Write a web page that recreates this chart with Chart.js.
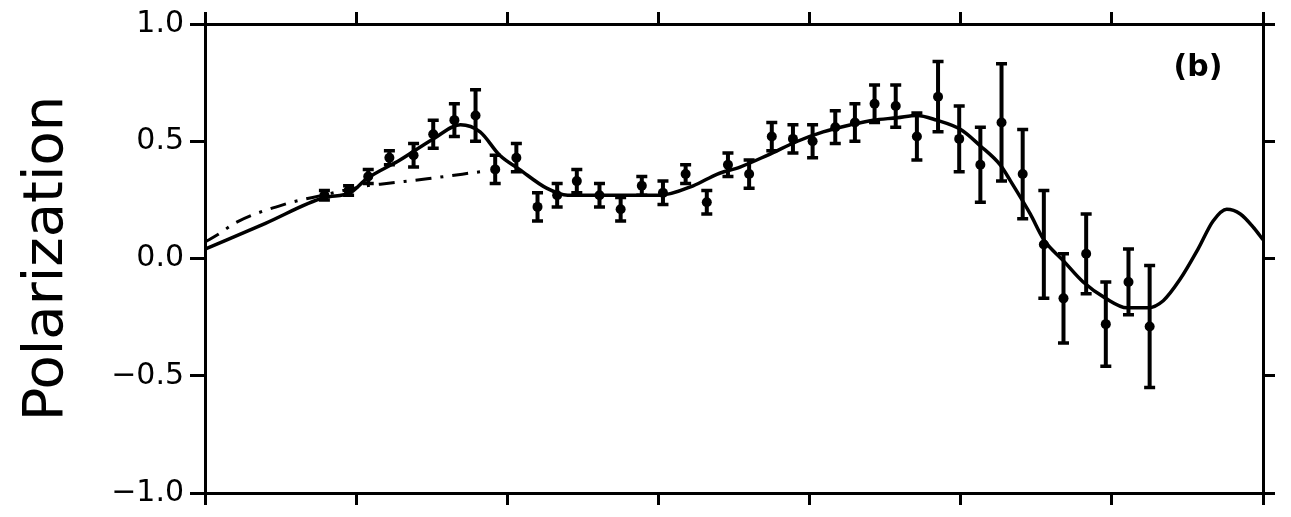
<!DOCTYPE html>
<html>
<head>
<meta charset="utf-8">
<script src="https://cdn.jsdelivr.net/npm/chart.js@4.4.1/dist/chart.umd.min.js"></script>
<style>
  html, body { margin: 0; padding: 0; background: #fff; }
  canvas { display: block; }
</style>
</head>
<body>
<canvas id="polChart" width="1291" height="517"></canvas>
<script>
// measured points with error bars
const obsX = [0.79, 0.95, 1.08, 1.22, 1.38, 1.51, 1.65, 1.79, 1.92, 2.06, 2.20, 2.33, 2.46, 2.61, 2.75, 2.89, 3.03, 3.18, 3.32, 3.46,
  3.60, 3.75, 3.89, 4.02, 4.17, 4.30, 4.43, 4.57, 4.71, 4.85, 4.99, 5.13, 5.27, 5.41, 5.55, 5.68, 5.83, 5.96, 6.11, 6.25];
const obsY = [0.27, 0.29, 0.35, 0.43, 0.44, 0.53, 0.59, 0.61, 0.38, 0.43, 0.22, 0.27, 0.33, 0.27, 0.21, 0.31, 0.28, 0.36, 0.24, 0.40,
  0.36, 0.52, 0.51, 0.50, 0.56, 0.58, 0.66, 0.65, 0.52, 0.69, 0.51, 0.40, 0.58, 0.36, 0.06, -0.17, 0.02, -0.28, -0.10, -0.29];
const obsErr = [0.02, 0.02, 0.03, 0.03, 0.05, 0.06, 0.07, 0.11, 0.06, 0.06, 0.06, 0.05, 0.05, 0.05, 0.05, 0.04, 0.05, 0.04, 0.05, 0.05,
  0.06, 0.06, 0.06, 0.07, 0.07, 0.08, 0.08, 0.09, 0.10, 0.15, 0.14, 0.16, 0.25, 0.19, 0.23, 0.19, 0.17, 0.18, 0.14, 0.26];

// solid fit curve
const fitX = [0, 0.4, 0.79, 0.96, 1.07, 1.29, 1.51, 1.69, 1.82, 1.95, 2.08, 2.26, 2.40, 2.61, 2.81, 3.01, 3.23, 3.39, 3.54, 3.72, 3.92,
  4.09, 4.27, 4.42, 4.58, 4.71, 4.84, 5.00, 5.13, 5.26, 5.33, 5.46, 5.55, 5.68, 5.81, 5.96, 6.10, 6.24, 6.34, 6.45, 6.57,
  6.67, 6.76, 6.85, 6.94, 7.0];
const fitY = [0.04, 0.15, 0.26, 0.28, 0.34, 0.42, 0.51, 0.57, 0.54, 0.44, 0.38, 0.30, 0.27, 0.27, 0.27, 0.27, 0.31, 0.36, 0.39, 0.44, 0.50,
  0.54, 0.57, 0.59, 0.60, 0.61, 0.59, 0.55, 0.48, 0.40, 0.33, 0.19, 0.08, -0.01, -0.10, -0.17, -0.21, -0.21, -0.18, -0.09, 0.04,
  0.16, 0.21, 0.19, 0.13, 0.08];

// dash-dot branch
const altX = [0, 0.08, 0.21, 0.52, 0.78, 1.07, 1.16, 1.47, 1.82];
const altY = [0.07, 0.10, 0.155, 0.23, 0.27, 0.31, 0.317, 0.34, 0.37];

const yTicks = [-1, -0.5, 0, 0.5, 1];
const panelLabel = '(b)';

const toPts = (xs, ys) => xs.map((x, i) => ({ x, y: ys[i] }));

const errorBars = {
  id: 'errorBars',
  afterDatasetsDraw(chart) {
    const { ctx, scales: { x, y } } = chart;
    ctx.save();
    ctx.strokeStyle = '#000';
    ctx.lineCap = 'butt';
    obsX.forEach((v, i) => {
      const px = x.getPixelForValue(v);
      const top = y.getPixelForValue(obsY[i] + obsErr[i]);
      const bot = y.getPixelForValue(obsY[i] - obsErr[i]);
      ctx.lineWidth = 4;
      ctx.beginPath();
      ctx.moveTo(px, top);
      ctx.lineTo(px, bot);
      ctx.stroke();
      ctx.lineWidth = 3.5;
      ctx.beginPath();
      ctx.moveTo(px - 5.5, top);
      ctx.lineTo(px + 5.5, top);
      ctx.moveTo(px - 5.5, bot);
      ctx.lineTo(px + 5.5, bot);
      ctx.stroke();
    });
    // panel label
    ctx.fillStyle = '#000';
    ctx.font = 'bold 30px "DejaVu Sans"';
    ctx.textAlign = 'center';
    ctx.textBaseline = 'middle';
    ctx.fillText(panelLabel, x.getPixelForValue(6.57), y.getPixelForValue(0.81));
    ctx.restore();
  }
};

const gridOpts = (len) => ({
  drawOnChartArea: false,
  drawTicks: true,
  tickLength: len,
  color: '#000',
  lineWidth: 3
});
const borderOpts = { display: true, color: '#000', width: 3 };

new Chart(document.getElementById('polChart'), {
  type: 'scatter',
  data: {
    datasets: [
      {
        label: 'fit',
        data: toPts(fitX, fitY),
        showLine: true,
        borderColor: '#000',
        borderWidth: 3.5,
        pointRadius: 0,
        cubicInterpolationMode: 'monotone'
      },
      {
        label: 'alt',
        data: toPts(altX, altY),
        showLine: true,
        borderColor: '#000',
        borderWidth: 3,
        borderDash: [16, 9, 3, 9],
        pointRadius: 0,
        cubicInterpolationMode: 'monotone'
      },
      {
        label: 'data',
        data: toPts(obsX, obsY),
        showLine: false,
        pointRadius: 5,
        pointBackgroundColor: '#000',
        pointBorderColor: '#000',
        pointBorderWidth: 0
      }
    ]
  },
  options: {
    responsive: false,
    animation: false,
    devicePixelRatio: 1,
    layout: { padding: 0 },
    plugins: { legend: { display: false }, tooltip: { enabled: false } },
    scales: {
      x: {
        type: 'linear', position: 'bottom', min: 0, max: 7,
        ticks: { display: false, stepSize: 1 },
        grid: gridOpts(12), border: borderOpts,
        afterFit: (s) => { s.height = 22; }
      },
      x2: {
        type: 'linear', position: 'top', min: 0, max: 7,
        ticks: { display: false, stepSize: 1 },
        grid: gridOpts(12), border: borderOpts,
        afterFit: (s) => { s.height = 22; }
      },
      y: {
        type: 'linear', position: 'left', min: -1, max: 1,
        afterBuildTicks: (s) => { s.ticks = yTicks.map(v => ({ value: v })); },
        ticks: {
          color: '#000',
          padding: 6,
          font: { family: '"DejaVu Sans"', size: 30 },
          callback: (v) => (v < 0 ? '\u2212' : '') + Math.abs(v).toFixed(1)
        },
        title: {
          display: true,
          text: 'Polarization',
          color: '#000',
          font: { family: '"DejaVu Sans"', size: 56, lineHeight: 1 },
          padding: { top: 19, bottom: 0 }
        },
        grid: gridOpts(15), border: borderOpts,
        afterFit: (s) => { s.width = 205; }
      },
      y2: {
        type: 'linear', position: 'right', min: -1, max: 1,
        afterBuildTicks: (s) => { s.ticks = yTicks.map(v => ({ value: v })); },
        ticks: { display: false },
        grid: gridOpts(12), border: borderOpts,
        afterFit: (s) => { s.width = 28; }
      }
    }
  },
  plugins: [errorBars]
});
</script>
</body>
</html>
